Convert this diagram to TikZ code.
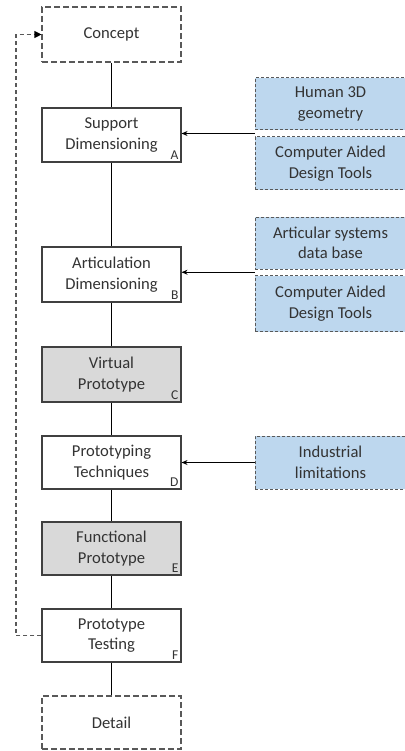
\documentclass[tikz,border=0pt]{standalone}
\usepackage{fontspec}
\setmainfont{Carlito}
\usetikzlibrary{arrows.meta,calc}
\definecolor{txt}{HTML}{333333}
\definecolor{edge}{HTML}{404040}
\definecolor{dashgray}{HTML}{595959}
\definecolor{bluefill}{HTML}{BDD7EE}
\definecolor{grayfill}{HTML}{D9D9D9}
\tikzset{
  stage/.style={draw=edge, line width=1.1pt, minimum width=139pt, text=txt,
    font=\fontsize{16.6}{20.5}\selectfont, align=center, inner sep=0pt},
  term/.style={stage, draw=dashgray, dash pattern=on 6pt off 3pt},
  proto/.style={stage, fill=grayfill},
  input/.style={draw=dashgray, line width=1pt, dash pattern=on 3pt off 2pt,
    fill=bluefill, minimum width=151pt, text=txt,
    font=\fontsize{16.6}{20.5}\selectfont, align=center, inner sep=0pt},
  tag/.style={font=\fontsize{13.5}{13.5}\selectfont, text=txt, anchor=south east, inner sep=0pt},
  link/.style={draw=black, line width=0.9pt},
  feed/.style={link, -{Stealth[length=6pt,width=5pt]}},
  back/.style={draw=dashgray, line width=1.1pt, dash pattern=on 4pt off 3pt,
    -{Triangle[length=7pt,width=7pt,color=black]}}
}
\begin{document}
\begin{tikzpicture}[x=1pt,y=-1pt]
\useasboundingbox (0,0) rectangle (404,751);

% main chain of stages
\node[term,  minimum height=55pt] (con) at (111.5,34.5)  {Concept};
\node[stage, minimum height=54pt] (sup) at (111.5,135)   {Support\\Dimensioning};
\node[stage, minimum height=55pt] (art) at (111.5,274.5) {Articulation\\Dimensioning};
\node[proto, minimum height=55pt] (vir) at (111.5,374.5) {Virtual\\Prototype};
\node[stage, minimum height=53pt] (tec) at (111.5,462.5) {Prototyping\\Techniques};
\node[proto, minimum height=53pt] (fun) at (111.5,548.5) {Functional\\Prototype};
\node[stage, minimum height=53pt] (tes) at (111.5,635.5) {Prototype\\Testing};
\node[term,  minimum height=53pt] (det) at (111.5,722.5) {Detail};

% stage letters
\node[tag] (ta) at ($(sup.south east)+(-3,-3)$) {A};
\node[tag] (tb) at ($(art.south east)+(-3,-3)$) {B};
\node[tag] (tc) at ($(vir.south east)+(-3,-3)$) {C};
\node[tag] (td) at ($(tec.south east)+(-3,-3)$) {D};
\node[tag] (te) at ($(fun.south east)+(-3,-3)$) {E};
\node[tag] (tf) at ($(tes.south east)+(-3,-3)$) {F};

% inputs
\node[input, minimum height=52pt] (hum)  at (330.5,104)   {Human 3D\\geometry};
\node[input, minimum height=53pt] (cad1) at (330.5,163.5) {Computer Aided\\Design Tools};
\node[input, minimum height=52pt] (arts) at (330.5,243)   {Articular systems\\data base};
\node[input, minimum height=56pt] (cad2) at (330.5,303.5) {Computer Aided\\Design Tools};
\node[input, minimum height=53pt] (ind)  at (330.5,462.5) {Industrial\\limitations};

% vertical links
\draw[link] (con) -- (sup);
\draw[link] (sup) -- (art);
\draw[link] (art) -- (vir);
\draw[link] (vir) -- (tec);
\draw[link] (tec) -- (fun);
\draw[link] (fun) -- (tes);
\draw[link] (tes) -- (det);

% inputs feeding the stages
\coordinate (j1) at ($(hum.south west)!0.5!(cad1.north west)$);
\coordinate (j2) at ($(arts.south west)!0.5!(cad2.north west)$);
\draw[feed] (j1) -- (j1 -| sup.east);
\draw[feed] (j2) -- (j2 -| art.east);
\draw[feed] (ind.west) -- (tec.east);

% feedback loop from testing back to the concept
\coordinate (lb) at (16,635.5);
\coordinate (lt) at (16,34.5);
\draw[back] (tes.west) -- (lb) -- (lt) -- (con.west);
\end{tikzpicture}
\end{document}
